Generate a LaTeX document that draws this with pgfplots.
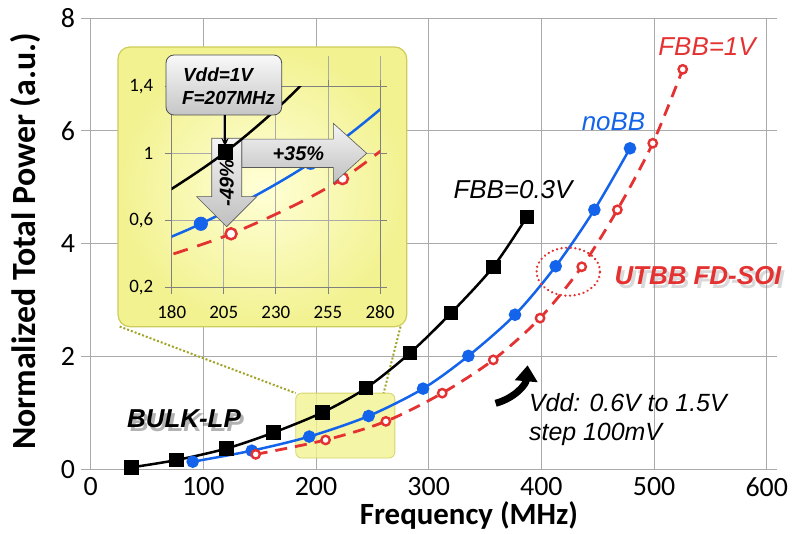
\documentclass[border=0pt]{standalone}
\usepackage{fontspec}
\setmainfont{Carlito}
\newfontfamily\arial{Liberation Sans}
\usepackage{pgfplots}
\usepackage{pgfplotstable}
\pgfplotsset{compat=1.18}
\usetikzlibrary{arrows.meta}
\definecolor{cblue}{RGB}{20,100,235}
\definecolor{cred}{RGB}{228,50,50}
\definecolor{cgrid}{RGB}{170,170,170}
\definecolor{ylin}{RGB}{255,255,215}
\definecolor{ylout}{RGB}{242,242,145}
\definecolor{ylborder}{RGB}{205,205,90}
\definecolor{olivedot}{RGB}{160,165,40}

\pgfplotstableread{
f P
36.5 0.035
76.4 0.165
120.8 0.37
162.1 0.65
205.9 1.01
244.4 1.44
283.3 2.06
319.8 2.77
357.3 3.59
387.0 4.47
}\blackdata
\pgfplotstableread{
f P
90.6 0.135
143.0 0.33
194.0 0.58
246.7 0.945
295.0 1.43
335.2 2.01
376.6 2.74
412.7 3.60
447.0 4.60
478.6 5.69
}\bluedata
\pgfplotstableread{
f P
146.5 0.265
208.5 0.52
262.0 0.85
312.0 1.35
357.3 1.94
398.8 2.68
435.8 3.59
467.4 4.60
498.8 5.78
525.4 7.09
}\reddata

\begin{document}
\begin{tikzpicture}
\path[use as bounding box] (-90.6bp,-64.7bp) rectangle (706.4bp,469.3bp);
% ---------------- main axis ----------------
\begin{axis}[
  at={(0,0)}, anchor=south west, scale only axis,
  width=676.2bp, height=451.3bp,
  xmin=0, xmax=600, ymin=0, ymax=8,
  xtick={0,100,...,600}, ytick={0,2,...,8},
  grid=major, grid style={draw=cgrid, line width=0.9bp},
  axis line style={draw=cgrid, line width=0.9bp},
  tick align=outside, major tick length=10bp,
  ytick style={draw=cgrid, line width=0.9bp},
  xtick style={draw=none},
  ticklabel style={font=\fontsize{28}{30}\selectfont},
  /pgf/number format/assume math mode=true,
  yticklabel style={xshift=-2bp},
  xticklabel style={inner sep=1bp, yshift=3bp},
]
\fill[ylout, opacity=0.8, rounded corners=6bp] (axis cs:182,0.2) rectangle (axis cs:270,1.35);
\draw[ylborder, opacity=0.8, rounded corners=6bp, line width=0.8bp] (axis cs:182,0.2) rectangle (axis cs:270,1.35);
\draw[olivedot, line width=2bp, dotted] (axis cs:25.8,2.53) -- (axis cs:182,1.35);
\draw[olivedot, line width=2bp, dotted] (axis cs:275,2.53) -- (axis cs:260,1.35);
\addplot[black, line width=2.5bp, smooth, mark=square*, mark size=6bp] table {\blackdata};
\addplot[cblue, line width=2.5bp, smooth, mark=*, mark size=5bp] table {\bluedata};
\addplot[cred, line width=2.8bp, smooth, dash pattern=on 12bp off 8bp, mark=*, mark size=4.2bp,
  mark options={solid, fill=white, line width=2.4bp}] table {\reddata};
\end{axis}
% axis labels
\node[font=\fontsize{31}{33}\selectfont\bfseries, anchor=base, inner sep=1bp] at (378.4bp,-55bp) {Frequency (MHz)};
\node[font=\fontsize{34}{36}\selectfont\bfseries, anchor=base, rotate=90] at (-54.6bp,227.8bp) {Normalized Total Power (a.u.)};

% ---------------- inset box ----------------
\shadedraw[rounded corners=12bp, inner color=ylin, outer color=ylout, draw=ylborder, line width=1.2bp]
  (27.4bp,142.6bp) rectangle (316.1bp,422.3bp);
% grid extensions above inset plot area
\foreach \xx in {81.1,185.25,237.3,289.4}
  \draw[cgrid, line width=0.8bp] (\xx bp,382.6bp) -- (\xx bp,413bp);
\begin{axis}[
  at={(81.1bp,182bp)}, anchor=south west, scale only axis,
  width=208.3bp, height=200.6bp,
  xmin=180, xmax=280, ymin=0.2, ymax=1.4,
  xtick={180,205,230,255,280}, ytick={0.2,0.6,1,1.4},
  yticklabels={{0,2},{0,6},{1},{1,4}},
  grid=major, grid style={draw=cgrid, line width=0.8bp},
  axis line style={draw=gray, line width=0.8bp},
  tick align=outside, major tick length=7bp,
  tick style={draw=gray, line width=0.8bp},
  ticklabel style={font=\fontsize{19}{21}\selectfont},
  /pgf/number format/assume math mode=true,
  xticklabel style={yshift=-8bp},
  yticklabel style={xshift=-8bp},
]
\addplot[cblue, line width=2.5bp, smooth, mark=*, mark size=5.8bp] table {\bluedata};
\addplot[cred, line width=2.8bp, smooth, dash pattern=on 15bp off 10bp, mark=*, mark size=5.5bp,
  mark options={solid, fill=white, line width=2.5bp}] table {\reddata};
\end{axis}
% block arrows
\shadedraw[top color=gray!8, bottom color=gray!50, draw=gray!70!black, line width=0.6bp]
  (151.1bp,330.2bp) -- (242.7bp,330.2bp) -- (242.7bp,346bp) -- (276.1bp,316bp) -- (242.7bp,286bp)
  -- (242.7bp,301.8bp) -- (151.1bp,301.8bp) -- cycle;
\shadedraw[top color=gray!8, bottom color=gray!50, draw=gray!70!black, line width=0.6bp]
  (121.1bp,331bp) -- (151.1bp,331bp) -- (151.1bp,272.6bp) -- (166.1bp,272.6bp) -- (136.1bp,242.6bp)
  -- (106.1bp,272.6bp) -- (121.1bp,272.6bp) -- cycle;
\node[font=\arial\bfseries\itshape\fontsize{20}{22}\selectfont] at (207.7bp,316bp) {+35\%};
\node[font=\arial\bfseries\itshape\fontsize{20}{22}\selectfont, rotate=90] at (136.1bp,286bp) {-49\%};
% black curve on top
\begin{axis}[
  at={(81.1bp,182bp)}, anchor=south west, scale only axis,
  width=208.3bp, height=200.6bp,
  xmin=180, xmax=280, ymin=0.2, ymax=1.4, hide axis,
]
\addplot[black, line width=2.5bp, smooth, mark=square*, mark size=6.5bp] table {\blackdata};
\end{axis}
% callout
\shadedraw[rounded corners=8bp, top color=gray!5, bottom color=gray!45, draw=gray!60!black, line width=0.8bp]
  (75.4bp,354.3bp) rectangle (191.1bp,414.3bp);
\node[font=\arial\bfseries\itshape\fontsize{19}{21}\selectfont, anchor=west] at (89bp,394.3bp) {Vdd=1V};
\node[font=\arial\bfseries\itshape\fontsize{19}{21}\selectfont, anchor=west] at (88bp,371bp) {F=207MHz};
\draw[black, line width=1.2bp, -{Stealth[length=8bp,width=7bp]}] (134.4bp,354.3bp) -- (134.4bp,323bp);

% ---------------- annotations ----------------
\node[font=\arial\itshape\fontsize{26}{28}\selectfont] at (422.4bp,279.3bp) {FBB=0.3V};
\node[font=\arial\itshape\fontsize{26}{28}\selectfont, text=cblue] at (522.9bp,347.3bp) {noBB};
\node[font=\arial\itshape\fontsize{26}{28}\selectfont, text=cred] at (616.4bp,422.3bp) {FBB=1V};
% BULK-LP with shadow
\node[font=\arial\bfseries\itshape\fontsize{26}{28}\selectfont, text=black, opacity=0.3] at (96.4bp,46.8bp) {BULK-LP};
\node[font=\arial\bfseries\itshape\fontsize{26}{28}\selectfont] at (93.4bp,50.3bp) {BULK-LP};
% UTBB FD-SOI with ellipse
\draw[cred, line width=2.5bp, dash pattern=on 0.1bp off 4.5bp, line cap=round] (477.7bp,197.6bp) ellipse [x radius=31.7bp, y radius=24bp];
\node[font=\arial\bfseries\itshape\fontsize{26}{28}\selectfont, text=gray, opacity=0.3, anchor=west] at (523.4bp,189.8bp) {UTBB FD-SOI};
\node[font=\arial\bfseries\itshape\fontsize{26}{28}\selectfont, text=cred, anchor=west] at (520.4bp,193.3bp) {UTBB FD-SOI};
% curved arrow
\draw[black, line width=7bp, -{Triangle[length=16bp,width=22bp]}] (405bp,66bp) to[out=15,in=-95] (437bp,104bp);
\node[font=\arial\itshape\fontsize{25}{27}\selectfont, anchor=base west] at (435bp,57.6bp) {Vdd: 0.6V to 1.5V};
\node[font=\arial\itshape\fontsize{25}{27}\selectfont, anchor=base west] at (435bp,29.3bp) {step 100mV};
\end{tikzpicture}
\end{document}
